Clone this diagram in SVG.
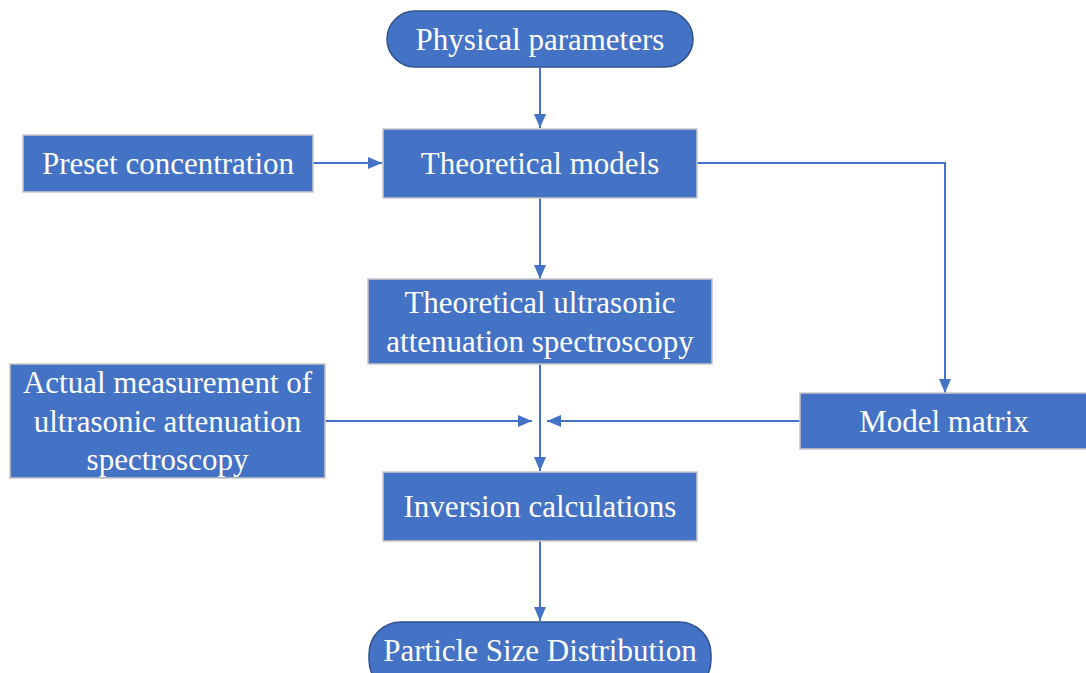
<svg xmlns="http://www.w3.org/2000/svg" width="1086" height="673" viewBox="0 0 1086 673">
  <style>
    .box { fill: #4472C4; stroke: #C8C8C8; stroke-width: 1.5; }
    .pill { fill: #4472C4; stroke: #2F528F; stroke-width: 1.5; }
    .label { fill: #FFFFFF; font-family: 'Liberation Serif', 'Times New Roman', serif; font-size: 31px; text-anchor: middle; }
    .wire { fill: none; stroke: #4472C4; stroke-width: 2; }
  </style>
  <defs>
    <marker id="head" viewBox="0 0 14 12" refX="14" refY="6" markerWidth="14" markerHeight="12" markerUnits="userSpaceOnUse" orient="auto">
      <path d="M0,0 L14,6 L0,12 Z" fill="#4472C4"/>
    </marker>
  </defs>
  <rect width="1086" height="673" fill="#FFFFFF"/>

  <!-- connectors -->
  <g id="connectors">
    <line class="wire" x1="540" y1="68" x2="540" y2="128" marker-end="url(#head)"/>
    <line class="wire" x1="313" y1="163" x2="382" y2="163" marker-end="url(#head)"/>
    <line class="wire" x1="540" y1="198" x2="540" y2="279" marker-end="url(#head)"/>
    <polyline class="wire" points="697,163 945,163 945,393" marker-end="url(#head)"/>
    <line class="wire" x1="540" y1="364" x2="540" y2="471" marker-end="url(#head)"/>
    <line class="wire" x1="325" y1="421" x2="532" y2="421" marker-end="url(#head)"/>
    <line class="wire" x1="800" y1="421" x2="547" y2="421" marker-end="url(#head)"/>
    <line class="wire" x1="540" y1="541" x2="540" y2="621" marker-end="url(#head)"/>
  </g>

  <g id="physical-parameters">
    <rect class="pill" x="387" y="11" width="306" height="56" rx="28"/>
    <text class="label" x="540" y="50">Physical parameters</text>
  </g>

  <g id="preset-concentration">
    <rect class="box" x="23" y="135" width="290" height="57"/>
    <text class="label" x="168" y="174">Preset concentration</text>
  </g>

  <g id="theoretical-models">
    <rect class="box" x="383" y="129" width="314" height="69"/>
    <text class="label" x="540" y="174">Theoretical models</text>
  </g>

  <g id="theoretical-spectroscopy">
    <rect class="box" x="368" y="279" width="344" height="85"/>
    <text class="label" x="540" y="313">Theoretical ultrasonic</text>
    <text class="label" x="540" y="352">attenuation spectroscopy</text>
  </g>

  <g id="measured-spectroscopy">
    <rect class="box" x="10" y="364" width="315" height="114"/>
    <text class="label" x="167.5" y="393">Actual measurement of</text>
    <text class="label" x="167.5" y="432">ultrasonic attenuation</text>
    <text class="label" x="167.5" y="470">spectroscopy</text>
  </g>

  <g id="model-matrix">
    <rect class="box" x="800" y="393" width="290" height="56"/>
    <text class="label" x="944" y="432">Model matrix</text>
  </g>

  <g id="inversion-calculations">
    <rect class="box" x="383" y="472" width="314" height="69"/>
    <text class="label" x="540" y="517">Inversion calculations</text>
  </g>

  <g id="particle-size-distribution">
    <rect class="pill" x="369" y="622" width="342" height="70" rx="32"/>
    <text class="label" x="540" y="661">Particle Size Distribution</text>
  </g>
</svg>
